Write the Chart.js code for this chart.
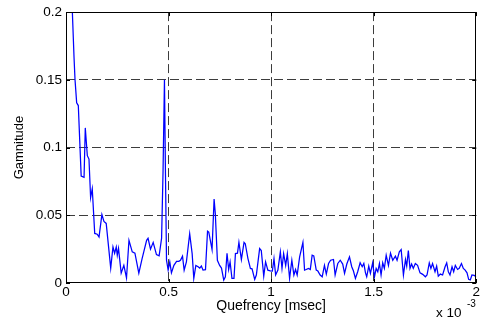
<!DOCTYPE html>
<html>
<head>
<meta charset="utf-8">
<script src="https://cdn.jsdelivr.net/npm/chart.js@4"></script>
<style>
  html, body { margin: 0; padding: 0; background: #fff; }
  #wrap { width: 481px; height: 321px; }
</style>
</head>
<body>
<div id="wrap"><canvas id="chart" width="481" height="321"></canvas></div>
<script>
// quefrency in units of 1e-3 s (msec axis shows "x 10^-3")
const quefrency = [
    0, 0.01, 0.02, 0.031, 0.039, 0.044, 0.052, 0.060, 0.074, 0.088,
    0.094, 0.104, 0.112, 0.120, 0.128, 0.140, 0.152, 0.161, 0.175, 0.185,
    0.196, 0.218, 0.229, 0.237, 0.245, 0.250, 0.256, 0.269, 0.282, 0.295,
    0.307, 0.323, 0.336, 0.355, 0.371, 0.393, 0.400, 0.412, 0.425, 0.441,
    0.454, 0.466, 0.473, 0.480, 0.485, 0.490, 0.498, 0.506, 0.514, 0.526,
    0.539, 0.550, 0.558, 0.568, 0.576, 0.587, 0.603, 0.615, 0.623, 0.633,
    0.644, 0.652, 0.660, 0.668, 0.680, 0.690, 0.696, 0.712, 0.722, 0.728,
    0.738, 0.749, 0.758, 0.769, 0.777, 0.785, 0.793, 0.800, 0.809, 0.819,
    0.826, 0.836, 0.843, 0.855, 0.868, 0.874, 0.887, 0.899, 0.907, 0.920,
    0.928, 0.944, 0.952, 0.964, 0.973, 0.984, 0.996, 1.006, 1.014, 1.022,
    1.033, 1.045, 1.053, 1.061, 1.071, 1.079, 1.090, 1.101, 1.111, 1.119,
    1.127, 1.139, 1.147, 1.155, 1.163, 1.171, 1.182, 1.191, 1.200, 1.208,
    1.220, 1.228, 1.239, 1.249, 1.260, 1.269, 1.280, 1.290, 1.304, 1.312,
    1.325, 1.337, 1.349, 1.358, 1.369, 1.382, 1.393, 1.401, 1.411, 1.422,
    1.434, 1.444, 1.452, 1.460, 1.466, 1.476, 1.484, 1.495, 1.504, 1.512,
    1.520, 1.528, 1.536, 1.544, 1.552, 1.561, 1.572, 1.582, 1.593, 1.606,
    1.614, 1.625, 1.634, 1.645, 1.655, 1.661, 1.669, 1.677, 1.685, 1.693,
    1.703, 1.714, 1.726, 1.739, 1.752, 1.760, 1.771, 1.779, 1.787, 1.799,
    1.807, 1.815, 1.825, 1.836, 1.848, 1.856, 1.864, 1.872, 1.882, 1.890,
    1.898, 1.909, 1.917, 1.928, 1.937, 1.946, 1.955, 1.963, 1.971, 1.979,
    1.990, 2.0
];

const gamnitude = [
    0.32, 0.27, 0.23, 0.200, 0.167, 0.150, 0.133, 0.131, 0.079, 0.078,
    0.1145, 0.094, 0.0915, 0.063, 0.0696, 0.0366, 0.036, 0.034, 0.0505, 0.0454,
    0.044, 0.011, 0.0266, 0.022, 0.0266, 0.0205, 0.0256, 0.0073, 0.013, 0.0037,
    0.0315, 0.023, 0.022, 0.0073, 0.018, 0.0315, 0.033, 0.025, 0.030, 0.021,
    0.020, 0.033, 0.0815, 0.150, 0.080, 0.0168, 0.0095, 0.0156, 0.0075, 0.013,
    0.016, 0.016, 0.0168, 0.0198, 0.0095, 0.0156, 0.0364, 0.0217, 0.0034, 0.013,
    0.012, 0.011, 0.0125, 0.0095, 0.0098, 0.0383, 0.0376, 0.0247, 0.062, 0.051,
    0.0168, 0.013, 0.011, 0.0022, 0.0046, 0.022, 0.010, 0.0156, 0.0034, 0.0034,
    0.0217, 0.022, 0.030, 0.0174, 0.030, 0.029, 0.018, 0.0108, 0.0105, 0.0027,
    0.0059, 0.0254, 0.024, 0.0051, 0.0156, 0.0095, 0.009, 0.0088, 0.018, 0.0059,
    0.0095, 0.023, 0.0108, 0.0217, 0.013, 0.0217, 0.0034, 0.0168, 0.0059, 0.010,
    0.0059, 0.0193, 0.0247, 0.030, 0.0095, 0.010, 0.0108, 0.010, 0.0205, 0.020,
    0.0095, 0.0088, 0.0059, 0.0046, 0.013, 0.0066, 0.0144, 0.0168, 0.0174, 0.0059,
    0.0144, 0.0168, 0.014, 0.0071, 0.014, 0.0193, 0.012, 0.009, 0.0034, 0.0083,
    0.0149, 0.012, 0.0144, 0.0075, 0.0046, 0.0125, 0.0071, 0.0149, 0.0046, 0.0108,
    0.0083, 0.0144, 0.0059, 0.0149, 0.0108, 0.0205, 0.013, 0.022, 0.0168, 0.0198,
    0.0168, 0.023, 0.0247, 0.0059, 0.0174, 0.0125, 0.024, 0.0108, 0.014, 0.0108,
    0.0144, 0.013, 0.0075, 0.0064, 0.0046, 0.0059, 0.0149, 0.0108, 0.0144, 0.0083,
    0.0125, 0.0051, 0.0066, 0.0059, 0.012, 0.0149, 0.0083, 0.0059, 0.012, 0.0083,
    0.013, 0.010, 0.0108, 0.0144, 0.0108, 0.0095, 0.0075, 0.0027, 0.0022, 0.0059,
    0.0056, 0.0046
];

const xTickLabels = ['0', '0.5', '1', '1.5', '2'];
const yTickLabels = ['0', '0.05', '0.1', '0.15', '0.2'];

const FONT = "'Liberation Sans', Arial, Helvetica, sans-serif";

const points = quefrency.map((q, i) => ({ x: q, y: gamnitude[i] }));

// hide grid lines that sit on the frame
function gridColor(ctx) {
    const t = ctx.tick;
    if (!t) return 'rgba(0,0,0,0)';
    const s = ctx.scale;
    if (Math.abs(t.value - s.min) < 1e-9 || Math.abs(t.value - s.max) < 1e-9) return 'rgba(0,0,0,0)';
    return '#3c3c3c';
}

// matlab-ish box + inward ticks + exponent label
const framePlugin = {
    id: 'frame',
    afterDraw(chart) {
        const { ctx, chartArea: a, scales } = chart;
        ctx.save();
        ctx.strokeStyle = '#000';
        ctx.lineWidth = 1;
        ctx.strokeRect(Math.round(a.left) + 0.5, Math.round(a.top) + 0.5,
            Math.round(a.right - a.left) - 1, Math.round(a.bottom - a.top) - 1);
        const tl = 4;
        ctx.beginPath();
        scales.x.ticks.forEach(t => {
            const px = Math.round(scales.x.getPixelForValue(t.value)) + 0.5;
            ctx.moveTo(px, a.bottom); ctx.lineTo(px, a.bottom - tl);
            ctx.moveTo(px, a.top); ctx.lineTo(px, a.top + tl);
        });
        scales.y.ticks.forEach(t => {
            const py = Math.round(scales.y.getPixelForValue(t.value)) + 0.5;
            ctx.moveTo(a.left, py); ctx.lineTo(a.left + tl, py);
            ctx.moveTo(a.right, py); ctx.lineTo(a.right - tl, py);
        });
        ctx.stroke();

        ctx.fillStyle = '#000';
        ctx.textBaseline = 'alphabetic';
        ctx.textAlign = 'left';
        ctx.font = '13.5px ' + FONT;
        ctx.fillText('x 10', 436, 317);
        ctx.font = '10px ' + FONT;
        ctx.fillText('-3', 467, 307);
        ctx.restore();
    }
};

const chart = new Chart(document.getElementById('chart').getContext('2d'), {
    type: 'line',
    data: {
        datasets: [{
            label: 'Gamnitude',
            data: points,
            borderColor: '#0000ff',
            borderWidth: 1.25,
            pointRadius: 0,
            tension: 0,
            fill: false
        }]
    },
    options: {
        responsive: false,
        animation: false,
        events: [],
        layout: { padding: { left: 0, right: 4, top: 10, bottom: 0 } },
        plugins: {
            legend: { display: false },
            tooltip: { enabled: false }
        },
        scales: {
            x: {
                type: 'linear',
                min: 0,
                max: 2,
                afterFit: (s) => { s.height = 38; },
                grid: { color: gridColor, drawTicks: false, lineWidth: 1 },
                border: { display: false, dash: [9, 4] },
                ticks: {
                    stepSize: 0.5,
                    padding: 1,
                    color: '#000',
                    maxRotation: 0,
                    font: { family: FONT, size: 13.5 },
                    callback: (v, i) => xTickLabels[i]
                },
                title: {
                    display: true,
                    text: 'Quefrency [msec]',
                    color: '#000',
                    font: { family: FONT, size: 14 },
                    padding: { top: 0, bottom: 6 }
                }
            },
            y: {
                min: 0,
                max: 0.2,
                afterFit: (s) => { s.width = 66; },
                grid: { color: gridColor, drawTicks: false, lineWidth: 1 },
                border: { display: false, dash: [9, 4] },
                ticks: {
                    stepSize: 0.05,
                    padding: 4,
                    color: '#000',
                    font: { family: FONT, size: 13.5 },
                    callback: (v, i) => yTickLabels[i]
                },
                title: {
                    display: true,
                    text: 'Gamnitude',
                    color: '#000',
                    font: { family: FONT, size: 13 },
                    padding: { top: 12, bottom: 0 }
                }
            }
        }
    },
    plugins: [framePlugin]
});
</script>
</body>
</html>
